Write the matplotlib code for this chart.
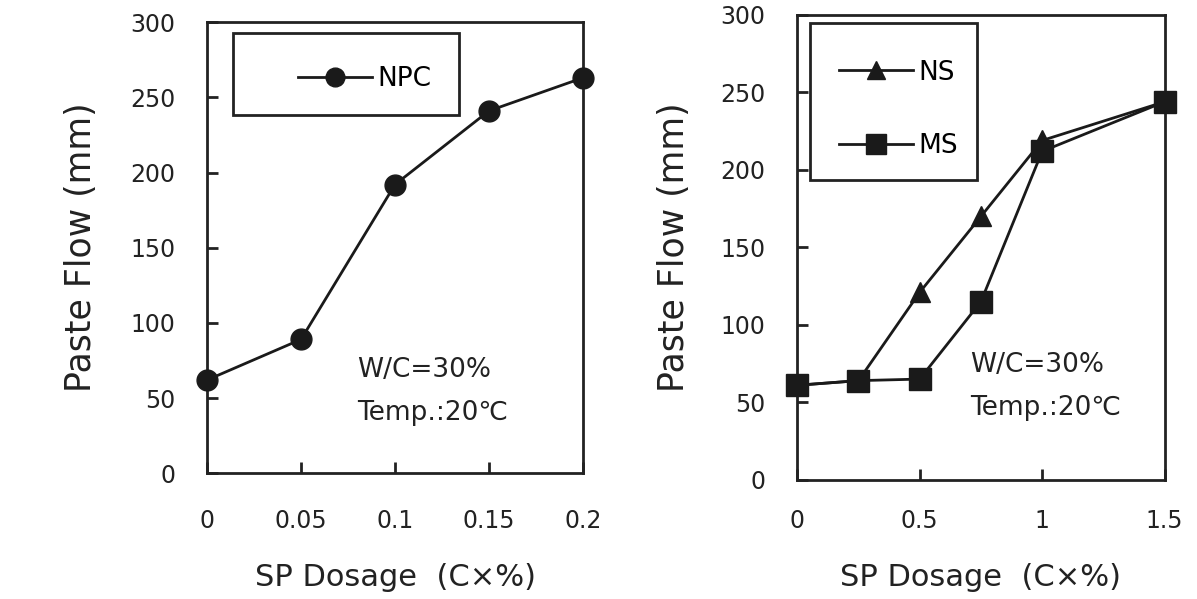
import matplotlib
matplotlib.use("Agg")
import matplotlib.pyplot as plt
import matplotlib.patches as mpatches

# data
npc_dose = [0, 0.05, 0.1, 0.15, 0.2]
npc_flow = [62, 89, 192, 241, 263]

ns_dose = [0, 0.25, 0.5, 0.75, 1.0, 1.5]
ns_flow = [61, 64, 121, 170, 219, 244]

ms_dose = [0, 0.25, 0.5, 0.75, 1.0, 1.5]
ms_flow = [61, 64, 65, 115, 212, 244]

yticks = [0, 50, 100, 150, 200, 250, 300]
left_xticks = [0, 0.05, 0.1, 0.15, 0.2]
left_xlabels = ["0", "0.05", "0.1", "0.15", "0.2"]
right_xticks = [0, 0.5, 1, 1.5]
right_xlabels = ["0", "0.5", "1", "1.5"]

plt.rcParams['font.family'] = ['DejaVu Sans']

fig = plt.figure(figsize=(11.97, 5.99), dpi=100)
ax1 = fig.add_axes([0.173, 0.210, 0.314, 0.753])
ax2 = fig.add_axes([0.666, 0.199, 0.307, 0.776])


def style(ax, xt, xl, xmax, xpad, xlab_y):
    ax.set_xlim(0, xmax)
    ax.set_ylim(0, 300)
    ax.set_yticks(yticks)
    ax.set_xticks(xt)
    ax.set_xticklabels(xl)
    for s in ax.spines.values():
        s.set_linewidth(2)
        s.set_color("#222222")
    ax.tick_params(axis="y", direction="in", length=8, width=2, pad=23,
                   labelsize=17, colors="#222222")
    ax.tick_params(axis="x", direction="in", length=8, width=2, pad=xpad,
                   labelsize=17, colors="#222222")
    ax.set_ylabel("Paste Flow (mm)", fontsize=25, color="#222222")
    ax.set_xlabel("SP Dosage  (C×%)", fontsize=22, color="#222222")
    ax.yaxis.set_label_coords(-0.29, 0.5)
    ax.xaxis.set_label_coords(0.5, xlab_y)


style(ax1, left_xticks, left_xlabels, 0.2, 26, -0.2)
style(ax2, right_xticks, right_xlabels, 1.5, 21, -0.18)

ax1.plot(npc_dose, npc_flow, color="#1a1a1a", lw=2, marker="o", ms=15,
         clip_on=False, zorder=5, label="NPC")
ax2.plot(ns_dose, ns_flow, color="#1a1a1a", lw=2, marker="^", ms=15,
         clip_on=False, zorder=5, label="NS")
ax2.plot(ms_dose, ms_flow, color="#1a1a1a", lw=2, marker="s", ms=16,
         clip_on=False, zorder=6, label="MS")

# legend boxes
ax1.add_patch(mpatches.Rectangle((0.069, 0.794), 0.6, 0.182, transform=ax1.transAxes,
                                 fill=False, lw=2, ec="#222222"))
ax1.legend(loc="upper left", bbox_to_anchor=(0.18, 0.955), frameon=False,
           fontsize=19, handlelength=2.8, markerscale=0.9, handletextpad=0.2)

ax2.add_patch(mpatches.Rectangle((0.035, 0.645), 0.454, 0.338, transform=ax2.transAxes,
                                 fill=False, lw=2, ec="#222222"))
ax2.legend(loc="upper left", bbox_to_anchor=(0.05, 0.955), frameon=False,
           fontsize=19, handlelength=2.8, markerscale=0.9, handletextpad=0.2,
           labelspacing=1.8)

for ax, x0, y0, y1 in [(ax1, 0.40, 0.228, 0.133), (ax2, 0.47, 0.247, 0.155)]:
    ax.text(x0, y0, "W/C=30%", transform=ax.transAxes, fontsize=19,
            va="center", color="#222222")
    ax.text(x0, y1, "Temp.:20℃", transform=ax.transAxes, fontsize=19,
            va="center", color="#222222")

fig.savefig("out.png", dpi=100)
